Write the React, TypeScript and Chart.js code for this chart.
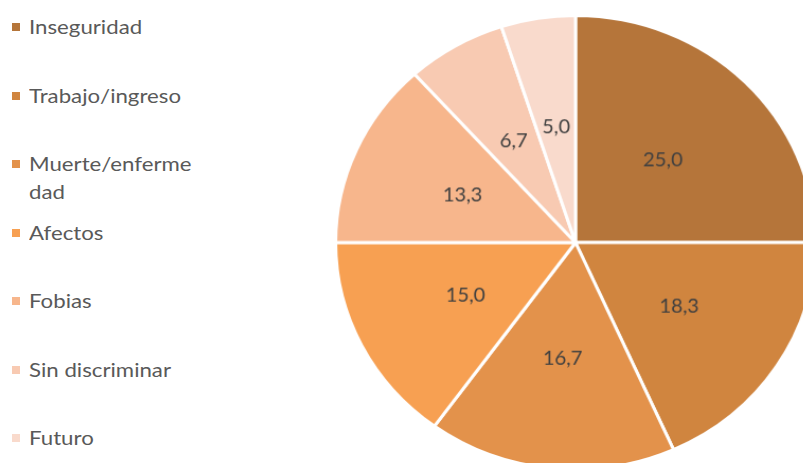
import React, { useEffect, useRef } from "react";
import { Chart, registerables } from "chart.js";

Chart.register(...registerables);

const categories = [
  "Inseguridad",
  "Trabajo/ingreso",
  "Muerte/enfermedad",
  "Afectos",
  "Fobias",
  "Sin discriminar",
  "Futuro",
];
const values = [25.0, 18.3, 16.7, 15.0, 13.3, 6.7, 5.0];
const colors = ["#B5753A", "#D0853F", "#E3924B", "#F7A052", "#F7B68C", "#F8CAB2", "#F9DACC"];

const FONT = "Lato, 'Noto Sans', sans-serif";

const labelPlugin = {
  id: "sliceLabels",
  afterDatasetsDraw(chart: any) {
    const ctx = chart.ctx;
    const meta = chart.getDatasetMeta(0);
    ctx.save();
    ctx.font = `19px ${FONT}`;
    ctx.fillStyle = "#404040";
    ctx.textAlign = "center";
    ctx.textBaseline = "middle";
    meta.data.forEach((arc: any, i: number) => {
      const p = arc.getProps(["x", "y", "startAngle", "endAngle", "outerRadius"], true);
      const mid = (p.startAngle + p.endAngle) / 2;
      const d = p.outerRadius * 0.515;
      const v = chart.data.datasets[0].data[i] as number;
      ctx.fillText(v.toFixed(1).replace(".", ","), p.x + Math.cos(mid) * d, p.y + Math.sin(mid) * d);
    });
    ctx.restore();
  },
};

export default function App() {
  const ref = useRef<HTMLCanvasElement>(null);
  useEffect(() => {
    if (!ref.current) return;
    const chart = new Chart(ref.current, {
      type: "pie",
      data: {
        labels: categories,
        datasets: [
          {
            data: values,
            backgroundColor: colors,
            borderColor: "#ffffff",
            borderWidth: 3,
          },
        ],
      },
      options: {
        responsive: false,
        animation: false,
        layout: { padding: 0 },
        plugins: {
          legend: { display: false },
          tooltip: { enabled: false },
        },
      },
      plugins: [labelPlugin],
    });
    return () => chart.destroy();
  }, []);

  return (
    <div
      style={{
        position: "absolute",
        left: 0,
        top: 0,
        width: 803,
        height: 463,
        overflow: "hidden",
        background: "#ffffff",
      }}
    >
      {categories.map((c, i) => (
        <div
          key={c}
          style={{
            position: "absolute",
            left: 12,
            top: 27 + i * 68.5 - 14,
            display: "flex",
            alignItems: "flex-start",
            fontFamily: FONT,
            fontSize: 19,
            lineHeight: "28px",
            color: "#595959",
          }}
        >
          <span
            style={{
              display: "inline-block",
              width: 8,
              height: 8,
              marginTop: 10,
              marginRight: 9,
              background: colors[i],
            }}
          />
          <span
            style={{
              width: 145,
              wordBreak: "break-all",
              transform: "scaleX(1.17)",
              transformOrigin: "left center",
            }}
          >
            {c}
          </span>
        </div>
      ))}
      <canvas
        ref={ref}
        width={456}
        height={456}
        style={{ position: "absolute", left: 333.5, top: 13.5, width: 483, height: 457 }}
      />
    </div>
  );
}
